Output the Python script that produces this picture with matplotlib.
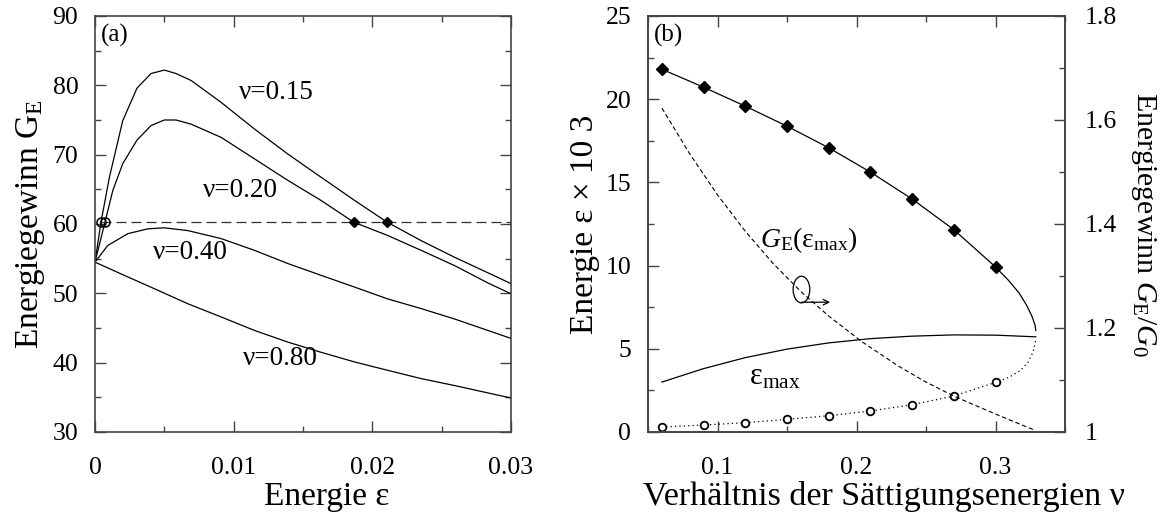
import matplotlib
matplotlib.use("Agg")
import matplotlib.pyplot as plt
from matplotlib.patches import Ellipse

plt.rcParams['font.family'] = ['Liberation Serif', 'DejaVu Serif']
plt.rcParams['mathtext.fontset'] = 'custom'
plt.rcParams['mathtext.rm'] = 'Liberation Serif'
plt.rcParams['mathtext.it'] = 'Liberation Serif:italic'

# ---- Panel (a): Energiegewinn G_E ueber Energie eps, fuer vier nu-Werte
eps_015 = [0, 0.00043, 0.00104, 0.0020, 0.00303, 0.00404, 0.0050, 0.00585, 0.00693,
           0.00909, 0.0115, 0.0139, 0.0163, 0.01872, 0.02107, 0.02352, 0.02593, 0.02833, 0.03]
G_015 = [54.5, 60.26, 66.75, 74.9, 79.6, 81.7, 82.2, 81.7, 80.7,
         77.55, 73.7, 70.1, 66.75, 63.4, 60.26, 57.6, 55.2, 52.97, 51.4]

eps_020 = [0, 0.00072, 0.00128, 0.0020, 0.00303, 0.00404, 0.0050, 0.00585, 0.00693,
           0.00909, 0.0115, 0.0139, 0.0163, 0.01866, 0.0211, 0.02352, 0.02593, 0.02833, 0.03]
G_020 = [54.5, 60.26, 64.8, 68.7, 72.1, 74.2, 75.0, 75.0, 74.4,
         72.5, 69.4, 66.3, 63.4, 60.26, 58.35, 56.2, 54.0, 51.5, 49.94]

eps_040 = [0, 0.00092, 0.00236, 0.0038, 0.0050, 0.00669, 0.00909, 0.0115, 0.0139,
           0.0163, 0.01872, 0.0211, 0.02352, 0.02593, 0.03]
G_040 = [54.5, 56.9, 58.6, 59.3, 59.45, 59.05, 57.9, 56.2, 54.3,
         52.6, 50.9, 49.2, 47.8, 46.3, 43.5]

eps_080 = [0, 0.00188, 0.00429, 0.00669, 0.00909, 0.0115, 0.0139, 0.0163, 0.01872,
           0.0211, 0.02352, 0.02593, 0.03]
G_080 = [54.5, 52.8, 50.66, 48.5, 46.6, 44.65, 42.97, 41.5, 40.1,
         38.9, 37.7, 36.7, 34.9]

G_level = 60.26
eps_circ = [0.00043, 0.00072]
eps_diam = [0.01866, 0.02107]

# ---- Panel (b): ueber nu
nu_pts = [0.06, 0.09, 0.12, 0.15, 0.18, 0.21, 0.24, 0.27, 0.30]
eps_hi_pts = [21.8, 20.72, 19.58, 18.38, 17.08, 15.62, 14.0, 12.16, 9.92]
eps_lo_pts = [0.30, 0.42, 0.56, 0.76, 0.98, 1.26, 1.64, 2.16, 2.98]

nu_hi = nu_pts + [0.3095, 0.317, 0.3225, 0.3265, 0.3285, 0.329]
eps_hi = eps_hi_pts + [9.1, 8.35, 7.6, 6.9, 6.4, 6.1]
nu_lo = nu_pts + [0.31, 0.318, 0.3235, 0.327, 0.3285, 0.329]
eps_lo = eps_lo_pts + [3.3, 3.7, 4.2, 4.8, 5.3, 5.6]

nu_emax = [0.06, 0.09, 0.12, 0.15, 0.18, 0.21, 0.24, 0.27, 0.30, 0.329]
eps_emax = [3.0, 3.81, 4.47, 4.98, 5.355, 5.61, 5.76, 5.835, 5.82, 5.72]

nu_gain = [0.06, 0.08, 0.10, 0.12, 0.14, 0.16, 0.18, 0.2037, 0.23, 0.25, 0.27, 0.30, 0.3277]
gain = [1.623, 1.535, 1.456, 1.386, 1.324, 1.270, 1.223, 1.174, 1.127, 1.096, 1.069, 1.0345, 1.004]

fig = plt.figure(figsize=(11.76, 5.14), dpi=100)
ax1 = fig.add_axes([95 / 1176, 82 / 514, 416 / 1176, 416 / 514])
ax2 = fig.add_axes([648 / 1176, 82 / 514, 417 / 1176, 416 / 514])
ax3 = ax2.twinx()

lw = 0.9
tick_fs = 18.5
lab_fs = 24

for e, g in [(eps_015, G_015), (eps_020, G_020), (eps_040, G_040), (eps_080, G_080)]:
    ax1.plot(e, g, color='k', lw=lw)
ax1.plot([eps_circ[0], 0.03], [G_level, G_level], color='#333333', lw=lw, dashes=(8, 4))
ax1.plot(eps_circ, [G_level] * 2, 'o', ms=6.5, mfc='none', mec='k', mew=1.1)
ax1.plot(eps_diam, [G_level] * 2, 'D', ms=5.5, color='k')

ax1.text(0.0004, 87.2, '(a)', fontsize=18, va='center')
ax1.text(0.0131, 79.0, 'ν=0.15', fontsize=19.5, ha='center', va='center')
ax1.text(0.0105, 64.8, 'ν=0.20', fontsize=19.5, ha='center', va='center')
ax1.text(0.0069, 55.9, 'ν=0.40', fontsize=19.5, ha='center', va='center')
ax1.text(0.0134, 40.6, 'ν=0.80', fontsize=19.5, ha='center', va='center')

ax1.set_xlim(0, 0.03)
ax1.set_ylim(30, 90)
ax1.set_xticks([0, 0.01, 0.02, 0.03])
ax1.set_xticklabels(['0', '0.01', '0.02', '0.03'])
ax1.set_xticks([0.005, 0.015, 0.025], minor=True)
ax1.set_yticks(range(30, 91, 10))
ax1.set_yticks(range(35, 90, 10), minor=True)
ax1.set_xlabel('Energie ε', fontsize=lab_fs, va='baseline')
ax1.set_ylabel(r'Energiegewinn $\mathrm{G}_\mathrm{E}$', fontsize=lab_fs)
ax1.xaxis.set_label_coords(0.558, -0.175)

# panel b
ax2.plot(nu_hi, eps_hi, color='k', lw=lw)
ax2.plot(nu_pts, eps_hi_pts, 'D', ms=6, color='k')
ax2.plot(nu_lo, eps_lo, color='k', lw=lw, ls=(0, (1, 2.5)))
ax2.plot(nu_pts, eps_lo_pts, 'o', ms=5.5, mfc='white', mec='k', mew=1.3)
ax2.plot(nu_emax, eps_emax, color='k', lw=lw)
ax3.plot(nu_gain, gain, color='k', lw=0.8, dashes=(4, 2.5))

ax2.text(0.0545, 23.85, '(b)', fontsize=18, va='center')
ax2.text(0.1657, 11.56, r'$G_\mathrm{E}(\mathrm{ε}_\mathrm{max})$', fontsize=20, ha='center', va='center')
ax2.text(0.141, 3.3, r'$\mathrm{ε}_\mathrm{max}$', fontsize=22, ha='center', va='center')
ax2.add_patch(Ellipse((0.1604, 8.56), 0.012, 1.6, fill=False, color='k', lw=lw))
ax2.annotate('', xy=(0.181, 7.8), xytext=(0.1604, 7.8),
             arrowprops=dict(arrowstyle='->', color='k', lw=lw, shrinkA=0, shrinkB=0))

ax2.set_xlim(0.05, 0.35)
ax2.set_ylim(0, 25)
ax2.set_xticks([0.1, 0.2, 0.3])
ax2.set_xticklabels(['0.1', '0.2', '0.3'])
ax2.set_xticks([0.05, 0.15, 0.25, 0.35], minor=True)
ax2.set_yticks(range(0, 26, 5))
ax2.set_yticks([2.5, 7.5, 12.5, 17.5, 22.5], minor=True)
ax3.set_ylim(1, 1.8)
ax3.set_yticks([1, 1.2, 1.4, 1.6, 1.8])
ax3.set_yticklabels(['1', '1.2', '1.4', '1.6', '1.8'])
ax3.set_yticks([1.1, 1.3, 1.5, 1.7], minor=True)
ax2.set_xlabel('Verhältnis der Sättigungsenergien ν', fontsize=24.5, va='baseline')
ax2.xaxis.set_label_coords(0.565, -0.175)
ax2.set_ylabel('Energie ε × 10 3', fontsize=lab_fs)
ax3.set_ylabel(r'Energiegewinn $G_\mathrm{E}/G_0$', fontsize=21.5, rotation=270, labelpad=30)

for ax in (ax1, ax2, ax3):
    for s in ax.spines.values():
        s.set_color('#444444')
        s.set_linewidth(1.2)
    ax.tick_params(which='both', direction='in', labelsize=tick_fs, color='#444444', width=1.0)
    ax.tick_params(which='major', length=8)
    ax.tick_params(which='minor', length=4)
ax1.tick_params(which='both', top=True, right=True)
ax2.tick_params(which='both', top=True, right=False)
ax1.tick_params(axis='x', pad=18)
ax2.tick_params(axis='x', pad=18)
ax1.tick_params(axis='y', pad=12)
ax2.tick_params(axis='y', pad=12)
ax3.tick_params(axis='y', pad=14)

fig.savefig('out.png', dpi=100)
